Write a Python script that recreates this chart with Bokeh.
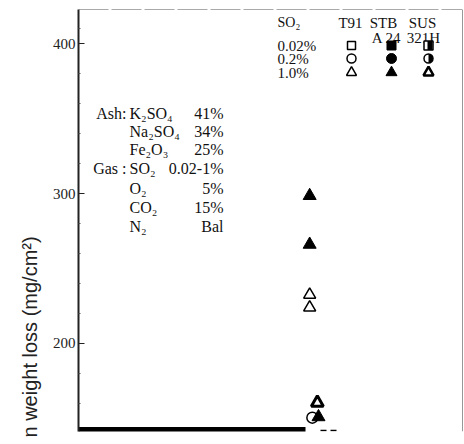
import math
from bokeh.plotting import figure
from bokeh.models import Range1d, Span, FixedTicker, Title
from bokeh.core.properties import value
from bokeh.embed import file_html
from bokeh.resources import INLINE

# ---------------- data ----------------
# T91 (open markers)
t91_tri_x = [60.2, 60.2]
t91_tri_y = [232.5, 224.0]
t91_circ_x = [60.9]
t91_circ_y = [150.5]
# STBA24 (filled markers)
stb_tri_x = [60.2, 60.2, 62.5]
stb_tri_y = [298.5, 266.0, 151.0]
# SUS321H (half-filled markers)
sus_tri_x = [62.2]
sus_tri_y = [160.5]

y_ticks = [200, 300, 400]
y_minor = [160, 180, 220, 240, 260, 280, 320, 340, 360, 380, 410]

X0, X1 = 0, 100
Y0, Y1 = 141.3, 422.7

W, H = 464, 444
FL, FR, FT, FB = 78, 462, 9, 431
def dx(px):
    return X0 + (px - FL) / (FR - FL) * (X1 - X0)
def dy(py):
    return Y1 - (py - FT) / (FB - FT) * (Y1 - Y0)
PXU = (X1 - X0) / (FR - FL)  # data units per px

SERIF = "Liberation Serif"

p = figure(width=W, height=H, x_range=Range1d(X0, X1), y_range=Range1d(Y0, Y1),
           output_backend="svg", toolbar_location=None,
           min_border_left=FL, min_border_right=W - FR, min_border_top=FT,
           min_border_bottom=H - FB)
p.outline_line_color = None
p.background_fill_color = "white"
p.border_fill_color = "white"
p.xgrid.visible = False
p.ygrid.visible = False
p.xaxis.visible = False

ya = p.yaxis[0]
ya.ticker = FixedTicker(ticks=y_ticks, minor_ticks=y_minor)
ya.major_tick_in = 6
ya.major_tick_out = 0
ya.minor_tick_in = 2
ya.minor_tick_out = 0
ya.axis_line_width = 2
ya.axis_line_color = "#222222"
ya.major_tick_line_color = "#222222"
ya.minor_tick_line_color = "#555555"
ya.major_label_text_font = SERIF
ya.major_label_text_font_size = "15px"
ya.major_label_text_color = "#222222"
ya.major_label_standoff = 3

# y-axis title (cropped in the original) as a side title, starting at the bottom
p.add_layout(Title(text="n weight loss (mg/cm²)", align="left", offset=-6, standoff=17,
                   text_font="Liberation Sans", text_font_size="20px",
                   text_font_style="normal", text_color="#222222"), "left")

# frame top and right lines
p.add_layout(Span(location=Y1, dimension="width", line_color="#555555", line_width=1,
                  line_dash="30 3"))
p.add_layout(Span(location=X1, dimension="height", line_color="#333333", line_width=1))

# thick bottom bar
p.segment(x0=[X0], y0=[Y0], x1=[dx(305)], y1=[Y0], line_width=9, line_color="black")
p.segment(x0=[dx(320), dx(330)], y0=[dy(430)] * 2, x1=[dx(326), dx(336)], y1=[dy(430)] * 2,
          line_width=1.5, line_color="black")

# ---------------- data markers ----------------
p.scatter(t91_tri_x, t91_tri_y, marker="triangle", size=12, fill_color="white",
          line_color="black", line_width=1.5)
p.scatter(t91_circ_x, t91_circ_y, marker="circle", size=11, fill_color="white",
          line_color="black", line_width=1.5)
p.scatter(stb_tri_x, stb_tri_y, marker="triangle", size=13, fill_color="black",
          line_color="black", line_width=1)
p.scatter(sus_tri_x, sus_tri_y, marker="triangle", size=12, fill_color="white",
          line_color="black", line_width=3)

# ---------------- legend table ----------------
def txt(x, y, s, align="left", size="15px"):
    p.text(x=[x], y=[y], text=[s], text_font=value(SERIF), text_font_size=size,
           text_align=align, text_baseline="middle", text_color="#111111")

row_y = {"h": dy(22), "h2": dy(37), "a": dy(45), "b": dy(58), "c": dy(72)}
txt(dx(277), row_y["h"], "SO₂", size="14px")
txt(dx(350), row_y["h"], "T91", "center")
txt(dx(383), row_y["h"], "STB", "center")
txt(dx(422), row_y["h"], "SUS", "center")
txt(dx(386), row_y["h2"], "A 24", "center")
txt(dx(423), row_y["h2"], "321H", "center")
txt(dx(277), row_y["a"], "0.02%")
txt(dx(277), row_y["b"], "0.2%")
txt(dx(277), row_y["c"], "1.0%")

cT, cS, cU = dx(351), dx(391), dx(428)
# squares
p.scatter([cT], [row_y["a"]], marker="square", size=8, fill_color="white", line_color="black", line_width=1.5)
p.scatter([cS], [row_y["a"]], marker="square", size=9, fill_color="black", line_color="black")
p.scatter([cU], [row_y["a"]], marker="square", size=9, fill_color="white", line_color="black", line_width=1.5)
p.rect([cU + 1.5 * PXU], [row_y["a"]], width=5, height=9, width_units="screen",
       height_units="screen", fill_color="black", line_color=None)
# circles
p.scatter([cT], [row_y["b"]], marker="circle", size=9, fill_color="white", line_color="black", line_width=1.5)
p.scatter([cS], [row_y["b"]], marker="circle", size=10, fill_color="black", line_color="black")
p.scatter([cU], [row_y["b"]], marker="circle", size=9, fill_color="white", line_color="black", line_width=1.5)
p.wedge([cU], [row_y["b"]], radius=4.5, radius_units="screen", start_angle=-math.pi / 2,
        end_angle=math.pi / 2, fill_color="black", line_color=None)
# triangles
p.scatter([cT], [row_y["c"]], marker="triangle", size=10, fill_color="white", line_color="black", line_width=1.5)
p.scatter([cS], [row_y["c"]], marker="triangle", size=11, fill_color="black", line_color="black")
p.scatter([cU], [row_y["c"]], marker="triangle", size=10, fill_color="white", line_color="black", line_width=2.5)

# ---------------- test-condition note ----------------
notes = [
    (113, "Ash:", "K₂SO₄", "41%"),
    (131, "", "Na₂SO₄", "34%"),
    (149, "", "Fe₂O₃", "25%"),
    (168, "Gas :", "SO₂", "0.02-1%"),
    (188, "", "O₂", "5%"),
    (207, "", "CO₂", "15%"),
    (226, "", "N₂", "Bal"),
]
for py, head, comp, amt in notes:
    if head:
        txt(dx(126), dy(py), head, "right", "16px")
    txt(dx(129), dy(py), comp, size="16px")
    txt(dx(223), dy(py), amt, "right", "16px")

open("out.html", "w").write(file_html(p, INLINE))
